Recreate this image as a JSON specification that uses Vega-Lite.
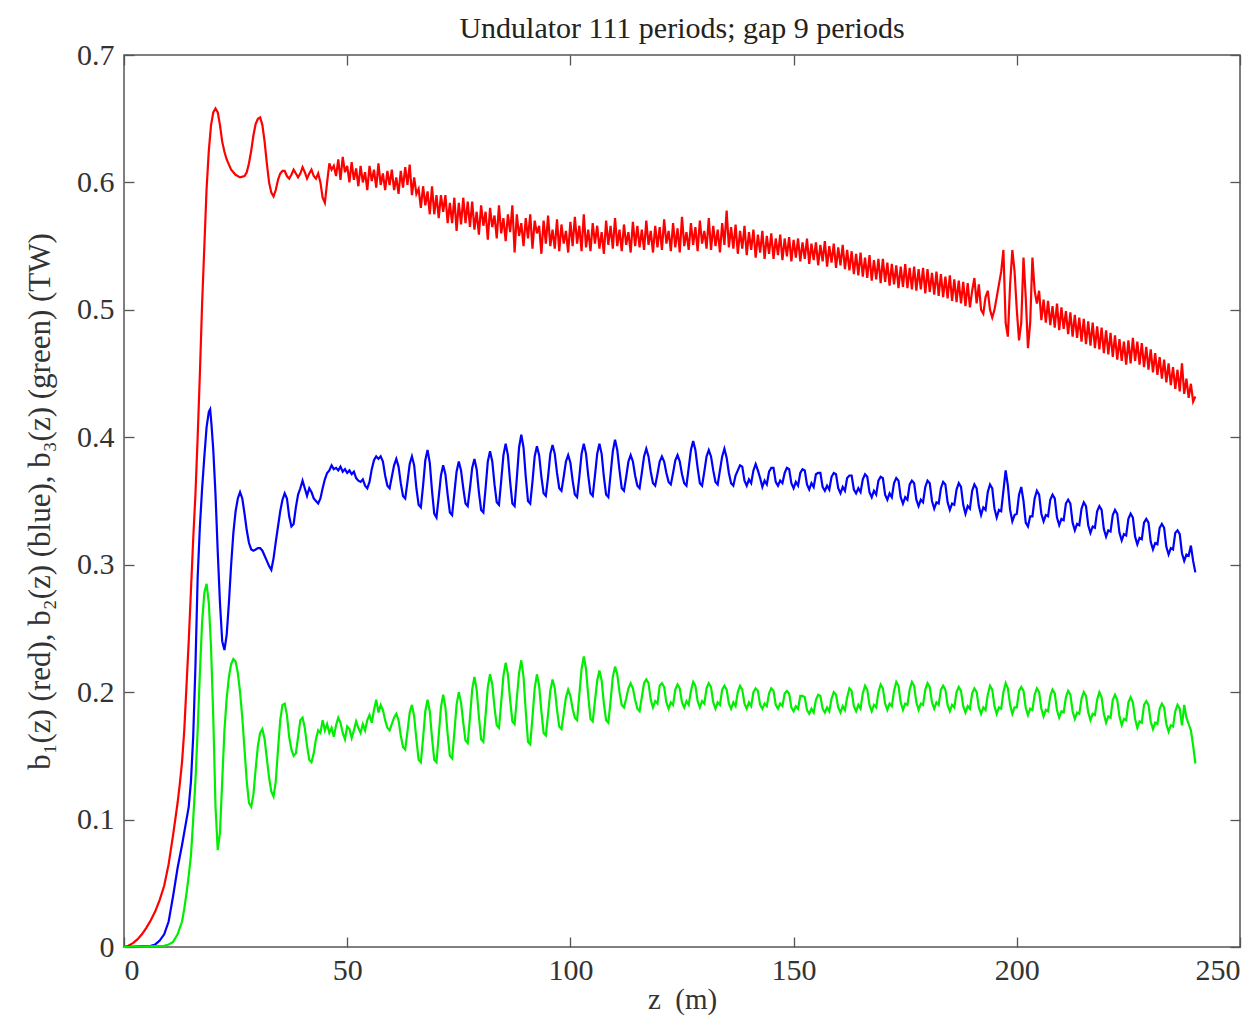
{
"$schema":"https://vega.github.io/schema/vega-lite/v6.json",
"width":1116,"height":892,
"autosize":{"type":"none"},
"padding":{"left":124,"top":55,"right":18,"bottom":82},
"background":"white",
"title":{"text":"Undulator 111 periods; gap 9 periods","font":"Liberation Serif","fontSize":30,"fontWeight":"normal","color":"#222","offset":-4},
"config":{
"view":{"stroke":"#555","strokeWidth":1.5},
"axis":{"labelFont":"Liberation Serif","labelFontSize":30,"labelColor":"#333","titleFont":"Liberation Serif","titleFontSize":29,"titleFontWeight":"normal","titleColor":"#333","grid":false,"domain":false,"tickColor":"#555","tickSize":-10,"tickWidth":1.3}
},
"datasets":{
"red":[{"z":0,"v":0},{"z":1,"v":0.001},{"z":2,"v":0.003},{"z":3,"v":0.006},{"z":4,"v":0.01},{"z":5,"v":0.015},{"z":6,"v":0.021},{"z":7,"v":0.028},{"z":8,"v":0.037},{"z":9,"v":0.048},{"z":10,"v":0.065},{"z":11,"v":0.088},{"z":12,"v":0.113},{"z":12.5,"v":0.128},{"z":13,"v":0.145},{"z":13.5,"v":0.17},{"z":14,"v":0.205},{"z":14.5,"v":0.24},{"z":15,"v":0.28},{"z":15.5,"v":0.32},{"z":16,"v":0.355},{"z":16.5,"v":0.4},{"z":17,"v":0.45},{"z":17.5,"v":0.505},{"z":18,"v":0.55},{"z":18.5,"v":0.595},{"z":19,"v":0.625},{"z":19.5,"v":0.645},{"z":20,"v":0.655},{"z":20.5,"v":0.658},{"z":21,"v":0.655},{"z":21.5,"v":0.645},{"z":22,"v":0.632},{"z":22.5,"v":0.624},{"z":23,"v":0.618},{"z":24,"v":0.61},{"z":25,"v":0.606},{"z":26,"v":0.604},{"z":27,"v":0.605},{"z":27.5,"v":0.608},{"z":28,"v":0.615},{"z":28.5,"v":0.625},{"z":29,"v":0.637},{"z":29.5,"v":0.646},{"z":30,"v":0.65},{"z":30.5,"v":0.651},{"z":31,"v":0.645},{"z":31.5,"v":0.632},{"z":32,"v":0.615},{"z":32.5,"v":0.6},{"z":33,"v":0.592},{"z":33.5,"v":0.589},{"z":34,"v":0.594},{"z":34.5,"v":0.602},{"z":35,"v":0.607},{"z":35.5,"v":0.609},{"z":36,"v":0.609},{"z":36.5,"v":0.605},{"z":37,"v":0.603},{"z":37.5,"v":0.606},{"z":38,"v":0.61},{"z":38.5,"v":0.607},{"z":39,"v":0.604},{"z":39.5,"v":0.607},{"z":40,"v":0.612},{"z":40.5,"v":0.608},{"z":41,"v":0.603},{"z":41.5,"v":0.607},{"z":42,"v":0.61},{"z":42.5,"v":0.605},{"z":43,"v":0.603},{"z":43.5,"v":0.607},{"z":44,"v":0.6},{"z":44.5,"v":0.588},{"z":45,"v":0.584},{"z":45.5,"v":0.6},{"z":46,"v":0.615},{"z":46.5,"v":0.61},{"z":47,"v":0.613},{"z":47.5,"v":0.605},{"z":48,"v":0.618},{"z":48.5,"v":0.602},{"z":49,"v":0.62},{"z":49.5,"v":0.608},
{"z":50,"v":0.613},{"z":50.5,"v":0.6},{"z":51,"v":0.616},{"z":51.5,"v":0.602},{"z":52,"v":0.611},{"z":52.5,"v":0.597},{"z":53,"v":0.613},{"z":53.5,"v":0.6},{"z":54,"v":0.608},{"z":54.5,"v":0.594},{"z":55,"v":0.613},{"z":55.5,"v":0.601},{"z":56,"v":0.61},{"z":56.5,"v":0.596},{"z":57,"v":0.615},{"z":57.5,"v":0.598},{"z":58,"v":0.607},{"z":58.5,"v":0.594},{"z":59,"v":0.609},{"z":59.5,"v":0.598},{"z":60,"v":0.61},{"z":60.5,"v":0.594},{"z":61,"v":0.604},{"z":61.5,"v":0.591},{"z":62,"v":0.609},{"z":62.5,"v":0.596},{"z":63,"v":0.612},{"z":63.5,"v":0.598},{"z":64,"v":0.614},{"z":64.5,"v":0.59},{"z":65,"v":0.604},{"z":65.5,"v":0.591},{"z":66,"v":0.595},{"z":66.5,"v":0.58},{"z":67,"v":0.597},{"z":67.5,"v":0.582},{"z":68,"v":0.593},{"z":68.5,"v":0.575},{"z":69,"v":0.597},{"z":69.5,"v":0.575},{"z":70,"v":0.59},{"z":70.5,"v":0.572},{"z":71,"v":0.59},{"z":71.5,"v":0.577},{"z":72,"v":0.59},{"z":72.5,"v":0.568},{"z":73,"v":0.584},{"z":73.5,"v":0.568},{"z":74,"v":0.588},{"z":74.5,"v":0.562},{"z":75,"v":0.584},{"z":75.5,"v":0.567},{"z":76,"v":0.588},{"z":76.5,"v":0.568},{"z":77,"v":0.585},{"z":77.5,"v":0.565},{"z":78,"v":0.585},{"z":78.5,"v":0.563},{"z":79,"v":0.577},{"z":79.5,"v":0.559},{"z":80,"v":0.582},{"z":80.5,"v":0.566},{"z":81,"v":0.577},{"z":81.5,"v":0.555},{"z":82,"v":0.58},{"z":82.5,"v":0.565},{"z":83,"v":0.574},{"z":83.5,"v":0.556},{"z":84,"v":0.582},{"z":84.5,"v":0.56},{"z":85,"v":0.572},{"z":85.5,"v":0.554},{"z":86,"v":0.575},{"z":86.5,"v":0.561},{"z":87,"v":0.582},{"z":87.5,"v":0.545},{"z":88,"v":0.575},{"z":88.5,"v":0.558},{"z":89,"v":0.568},{"z":89.5,"v":0.55},{"z":90,"v":0.572},{"z":90.5,"v":0.556},{"z":91,"v":0.575},{"z":91.5,"v":0.548},{"z":92,"v":0.57},{"z":92.5,"v":0.56},{"z":93,"v":0.566},{"z":93.5,"v":0.544},{"z":94,"v":0.57},{"z":94.5,"v":0.552},{"z":95,"v":0.574},{"z":95.5,"v":0.55},{"z":96,"v":0.563},{"z":96.5,"v":0.548},{"z":97,"v":0.571},{"z":97.5,"v":0.546},{"z":98,"v":0.567},{"z":98.5,"v":0.552},{"z":99,"v":0.562},{"z":99.5,"v":0.545},{"z":100,"v":0.569},{"z":100.5,"v":0.55},{"z":101,"v":0.573},{"z":101.5,"v":0.552},{"z":102,"v":0.566},{"z":102.5,"v":0.546},{"z":103,"v":0.575},{"z":103.5,"v":0.549},{"z":104,"v":0.563},{"z":104.5,"v":0.546},{"z":105,"v":0.568},{"z":105.5,"v":0.552},{"z":106,"v":0.566},{"z":106.5,"v":0.548},{"z":107,"v":0.561},{"z":107.5,"v":0.544},{"z":108,"v":0.57},{"z":108.5,"v":0.551},{"z":109,"v":0.566},{"z":109.5,"v":0.548},{"z":110,"v":0.572},{"z":110.5,"v":0.55},{"z":111,"v":0.563},{"z":111.5,"v":0.546},{"z":112,"v":0.567},{"z":112.5,"v":0.551},{"z":113,"v":0.561},{"z":113.5,"v":0.545},{"z":114,"v":0.569},{"z":114.5,"v":0.55},{"z":115,"v":0.566},{"z":115.5,"v":0.549},{"z":116,"v":0.563},{"z":116.5,"v":0.547},{"z":117,"v":0.57},{"z":117.5,"v":0.551},{"z":118,"v":0.562},{"z":118.5,"v":0.545},{"z":119,"v":0.566},{"z":119.5,"v":0.549},{"z":120,"v":0.565},{"z":120.5,"v":0.547},{"z":121,"v":0.571},{"z":121.5,"v":0.552},{"z":122,"v":0.562},{"z":122.5,"v":0.546},{"z":123,"v":0.568},{"z":123.5,"v":0.549},{"z":124,"v":0.564},{"z":124.5,"v":0.545},{"z":125,"v":0.573},{"z":125.5,"v":0.55},{"z":126,"v":0.561},{"z":126.5,"v":0.547},{"z":127,"v":0.568},{"z":127.5,"v":0.551},{"z":128,"v":0.565},{"z":128.5,"v":0.546},{"z":129,"v":0.57},{"z":129.5,"v":0.552},{"z":130,"v":0.562},{"z":130.5,"v":0.548},{"z":131,"v":0.572},{"z":131.5,"v":0.547},{"z":132,"v":0.566},{"z":132.5,"v":0.55},{"z":133,"v":0.563},{"z":133.5,"v":0.545},{"z":134,"v":0.568},{"z":134.5,"v":0.551},{"z":135,"v":0.578},{"z":135.5,"v":0.549},{"z":136,"v":0.565},{"z":136.5,"v":0.548},{"z":137,"v":0.567},{"z":137.5,"v":0.544},{"z":138,"v":0.562},{"z":138.5,"v":0.548},{"z":139,"v":0.566},{"z":139.5,"v":0.543},{"z":140,"v":0.561},{"z":140.5,"v":0.547},{"z":141,"v":0.563},{"z":141.5,"v":0.541},{"z":142,"v":0.559},{"z":142.5,"v":0.545},{"z":143,"v":0.562},{"z":143.5,"v":0.54},{"z":144,"v":0.558},{"z":144.5,"v":0.544},{"z":145,"v":0.56},{"z":145.5,"v":0.54},{"z":146,"v":0.556},{"z":146.5,"v":0.543},{"z":147,"v":0.559},{"z":147.5,"v":0.539},{"z":148,"v":0.556},{"z":148.5,"v":0.542},{"z":149,"v":0.557},{"z":149.5,"v":0.538},{"z":150,"v":0.555},{"z":150.5,"v":0.541},{"z":151,"v":0.556},{"z":151.5,"v":0.538},{"z":152,"v":0.553},{"z":152.5,"v":0.54},{"z":153,"v":0.556},{"z":153.5,"v":0.536},{"z":154,"v":0.552},{"z":154.5,"v":0.539},{"z":155,"v":0.553},{"z":155.5,"v":0.535},{"z":156,"v":0.551},{"z":156.5,"v":0.538},{"z":157,"v":0.554},{"z":157.5,"v":0.534},{"z":158,"v":0.55},{"z":158.5,"v":0.537},{"z":159,"v":0.552},{"z":159.5,"v":0.533},{"z":160,"v":0.549},{"z":160.5,"v":0.535},{"z":161,"v":0.551},{"z":161.5,"v":0.532},{"z":162,"v":0.547},{"z":162.5,"v":0.531},{"z":163,"v":0.546},{"z":163.5,"v":0.528},{"z":164,"v":0.544},{"z":164.5,"v":0.527},{"z":165,"v":0.545},{"z":165.5,"v":0.526},{"z":166,"v":0.541},{"z":166.5,"v":0.525},{"z":167,"v":0.543},{"z":167.5,"v":0.523},{"z":168,"v":0.539},{"z":168.5,"v":0.524},{"z":169,"v":0.54},{"z":169.5,"v":0.521},{"z":170,"v":0.54},{"z":170.5,"v":0.522},{"z":171,"v":0.537},{"z":171.5,"v":0.519},{"z":172,"v":0.536},{"z":172.5,"v":0.52},{"z":173,"v":0.535},{"z":173.5,"v":0.517},{"z":174,"v":0.534},{"z":174.5,"v":0.518},{"z":175,"v":0.536},{"z":175.5,"v":0.517},{"z":176,"v":0.533},{"z":176.5,"v":0.516},{"z":177,"v":0.534},{"z":177.5,"v":0.515},{"z":178,"v":0.532},{"z":178.5,"v":0.516},{"z":179,"v":0.533},{"z":179.5,"v":0.513},{"z":180,"v":0.532},{"z":180.5,"v":0.514},{"z":181,"v":0.529},{"z":181.5,"v":0.512},{"z":182,"v":0.53},{"z":182.5,"v":0.511},{"z":183,"v":0.528},{"z":183.5,"v":0.51},{"z":184,"v":0.526},{"z":184.5,"v":0.509},{"z":185,"v":0.527},{"z":185.5,"v":0.507},{"z":186,"v":0.524},{"z":186.5,"v":0.506},{"z":187,"v":0.523},{"z":187.5,"v":0.505},{"z":188,"v":0.522},{"z":188.5,"v":0.503},{"z":189,"v":0.521},{"z":189.5,"v":0.502},{"z":190,"v":0.515},{"z":190.5,"v":0.525},{"z":191,"v":0.505},{"z":191.5,"v":0.52},{"z":192,"v":0.5},{"z":192.5,"v":0.497},{"z":193,"v":0.51},{"z":193.5,"v":0.515},{"z":194,"v":0.5},{"z":194.5,"v":0.494},{"z":195,"v":0.5},{"z":195.5,"v":0.51},{"z":196,"v":0.52},{"z":196.5,"v":0.53},{"z":197,"v":0.547},{"z":197.5,"v":0.49},{"z":198,"v":0.479},{"z":198.5,"v":0.52},{"z":199,"v":0.547},{"z":199.5,"v":0.53},{"z":200,"v":0.5},{"z":200.5,"v":0.476},{"z":201,"v":0.49},{"z":201.5,"v":0.541},{"z":202,"v":0.51},{"z":202.5,"v":0.47},{"z":203,"v":0.49},{"z":203.5,"v":0.541},{"z":204,"v":0.515},{"z":204.5,"v":0.505},{"z":205,"v":0.515},{"z":205.5,"v":0.492},{"z":206,"v":0.508},{"z":206.5,"v":0.49},{"z":207,"v":0.507},{"z":207.5,"v":0.488},{"z":208,"v":0.503},{"z":208.5,"v":0.486},{"z":209,"v":0.505},{"z":209.5,"v":0.484},{"z":210,"v":0.502},{"z":210.5,"v":0.485},{"z":211,"v":0.499},{"z":211.5,"v":0.481},{"z":212,"v":0.498},{"z":212.5,"v":0.479},{"z":213,"v":0.496},{"z":213.5,"v":0.478},{"z":214,"v":0.494},{"z":214.5,"v":0.475},{"z":215,"v":0.493},{"z":215.5,"v":0.473},{"z":216,"v":0.491},{"z":216.5,"v":0.472},{"z":217,"v":0.49},{"z":217.5,"v":0.47},{"z":218,"v":0.487},{"z":218.5,"v":0.469},{"z":219,"v":0.486},{"z":219.5,"v":0.466},{"z":220,"v":0.484},{"z":220.5,"v":0.465},{"z":221,"v":0.482},{"z":221.5,"v":0.463},{"z":222,"v":0.48},{"z":222.5,"v":0.461},{"z":223,"v":0.477},{"z":223.5,"v":0.46},{"z":224,"v":0.475},{"z":224.5,"v":0.457},{"z":225,"v":0.476},{"z":225.5,"v":0.458},{"z":226,"v":0.478},{"z":226.5,"v":0.46},{"z":227,"v":0.475},{"z":227.5,"v":0.457},{"z":228,"v":0.474},{"z":228.5,"v":0.455},{"z":229,"v":0.471},{"z":229.5,"v":0.453},{"z":230,"v":0.469},{"z":230.5,"v":0.451},{"z":231,"v":0.466},{"z":231.5,"v":0.449},{"z":232,"v":0.463},{"z":232.5,"v":0.446},{"z":233,"v":0.461},{"z":233.5,"v":0.443},{"z":234,"v":0.458},{"z":234.5,"v":0.441},{"z":235,"v":0.455},{"z":235.5,"v":0.438},{"z":236,"v":0.453},{"z":236.5,"v":0.436},{"z":237,"v":0.458},{"z":237.5,"v":0.434},{"z":238,"v":0.446},{"z":238.5,"v":0.431},{"z":239,"v":0.442},{"z":239.5,"v":0.428},{"z":240,"v":0.432}],
"blue":[{"z":0,"v":0},{"z":6,"v":0.001},{"z":7,"v":0.002},{"z":8,"v":0.005},{"z":9,"v":0.01},{"z":10,"v":0.02},{"z":11,"v":0.04},{"z":12,"v":0.062},{"z":13,"v":0.08},{"z":14,"v":0.1},{"z":14.5,"v":0.11},{"z":15,"v":0.13},{"z":15.5,"v":0.165},{"z":16,"v":0.22},{"z":16.5,"v":0.29},{"z":17,"v":0.33},{"z":17.5,"v":0.36},{"z":18,"v":0.385},{"z":18.5,"v":0.408},{"z":19,"v":0.42},{"z":19.3,"v":0.422},{"z":19.6,"v":0.41},{"z":20,"v":0.39},{"z":20.5,"v":0.355},{"z":21,"v":0.31},{"z":21.5,"v":0.27},{"z":22,"v":0.24},{"z":22.5,"v":0.233},{"z":23,"v":0.245},{"z":23.5,"v":0.27},{"z":24,"v":0.3},{"z":24.5,"v":0.325},{"z":25,"v":0.342},{"z":25.5,"v":0.352},{"z":26,"v":0.357},{"z":26.5,"v":0.352},{"z":27,"v":0.34},{"z":27.5,"v":0.327},{"z":28,"v":0.317},{"z":28.5,"v":0.312},{"z":29,"v":0.311},{"z":29.5,"v":0.312},{"z":30,"v":0.313},{"z":30.5,"v":0.313},{"z":31,"v":0.311},{"z":31.5,"v":0.307},{"z":32,"v":0.303},{"z":32.5,"v":0.299},{"z":33,"v":0.296},{"z":33.5,"v":0.305},{"z":34,"v":0.318},{"z":34.5,"v":0.33},{"z":35,"v":0.342},{"z":35.5,"v":0.351},{"z":36,"v":0.356},{"z":36.5,"v":0.352},{"z":37,"v":0.338},{"z":37.5,"v":0.33},{"z":38,"v":0.332},{"z":38.5,"v":0.345},{"z":39,"v":0.355},{"z":39.5,"v":0.36},{"z":40,"v":0.366},{"z":40.5,"v":0.36},{"z":41,"v":0.354},{"z":41.5,"v":0.36},{"z":42,"v":0.357},{"z":42.5,"v":0.352},{"z":43,"v":0.35},{"z":43.5,"v":0.348},{"z":44,"v":0.352},{"z":44.5,"v":0.36},{"z":45,"v":0.367},{"z":45.5,"v":0.372},{"z":46,"v":0.374},{"z":46.5,"v":0.378},{"z":47,"v":0.375},{"z":47.5,"v":0.376},{"z":48,"v":0.374},{"z":48.5,"v":0.377},{"z":49,"v":0.373},{"z":49.5,"v":0.375},{"z":50,"v":0.372},{"z":50.5,"v":0.374},{"z":51,"v":0.371},{"z":51.5,"v":0.373},{"z":52,"v":0.368},{"z":52.5,"v":0.366},{"z":53,"v":0.365},{"z":53.5,"v":0.367},{"z":54,"v":0.362},{"z":54.5,"v":0.36},{"z":55,"v":0.365},{"z":55.5,"v":0.375},{"z":56,"v":0.382},{"z":56.5,"v":0.385},{"z":57,"v":0.383},
{"z":57.5,"v":0.385},{"z":58,"v":0.381},{"z":58.5,"v":0.37},{"z":59,"v":0.362},{"z":59.5,"v":0.36},{"z":60,"v":0.369},{"z":60.5,"v":0.378},{"z":61,"v":0.383},{"z":61.5,"v":0.377},{"z":62,"v":0.364},{"z":62.5,"v":0.354},{"z":63,"v":0.352},{"z":63.5,"v":0.365},{"z":64,"v":0.379},{"z":64.5,"v":0.385},{"z":65,"v":0.378},{"z":65.5,"v":0.36},{"z":66,"v":0.347},{"z":66.5,"v":0.345},{"z":67,"v":0.362},{"z":67.5,"v":0.382},{"z":68,"v":0.39},{"z":68.5,"v":0.38},{"z":69,"v":0.358},{"z":69.5,"v":0.34},{"z":70,"v":0.337},{"z":70.5,"v":0.353},{"z":71,"v":0.37},{"z":71.5,"v":0.378},{"z":72,"v":0.371},{"z":72.5,"v":0.355},{"z":73,"v":0.341},{"z":73.5,"v":0.339},{"z":74,"v":0.356},{"z":74.5,"v":0.373},{"z":75,"v":0.381},{"z":75.5,"v":0.374},{"z":76,"v":0.36},{"z":76.5,"v":0.348},{"z":77,"v":0.346},{"z":77.5,"v":0.36},{"z":78,"v":0.376},{"z":78.5,"v":0.383},{"z":79,"v":0.375},{"z":79.5,"v":0.357},{"z":80,"v":0.343},{"z":80.5,"v":0.341},{"z":81,"v":0.36},{"z":81.5,"v":0.381},{"z":82,"v":0.389},{"z":82.5,"v":0.381},{"z":83,"v":0.363},{"z":83.5,"v":0.349},{"z":84,"v":0.347},{"z":84.5,"v":0.366},{"z":85,"v":0.386},{"z":85.5,"v":0.395},{"z":86,"v":0.386},{"z":86.5,"v":0.365},{"z":87,"v":0.348},{"z":87.5,"v":0.346},{"z":88,"v":0.368},{"z":88.5,"v":0.392},{"z":89,"v":0.402},{"z":89.5,"v":0.392},{"z":90,"v":0.369},{"z":90.5,"v":0.35},{"z":91,"v":0.348},{"z":91.5,"v":0.365},{"z":92,"v":0.385},{"z":92.5,"v":0.393},{"z":93,"v":0.386},{"z":93.5,"v":0.369},{"z":94,"v":0.356},{"z":94.5,"v":0.354},{"z":95,"v":0.369},{"z":95.5,"v":0.387},{"z":96,"v":0.394},{"z":96.5,"v":0.387},{"z":97,"v":0.372},{"z":97.5,"v":0.36},{"z":98,"v":0.358},{"z":98.5,"v":0.369},{"z":99,"v":0.381},{"z":99.5,"v":0.386},{"z":100,"v":0.38},{"z":100.5,"v":0.366},{"z":101,"v":0.355},{"z":101.5,"v":0.353},{"z":102,"v":0.369},{"z":102.5,"v":0.387},{"z":103,"v":0.395},{"z":103.5,"v":0.387},{"z":104,"v":0.37},{"z":104.5,"v":0.356},{"z":105,"v":0.354},{"z":105.5,"v":0.37},{"z":106,"v":0.387},{"z":106.5,"v":0.395},{"z":107,"v":0.387},{"z":107.5,"v":0.369},{"z":108,"v":0.355},{"z":108.5,"v":0.353},{"z":109,"v":0.371},{"z":109.5,"v":0.389},{"z":110,"v":0.398},{"z":110.5,"v":0.39},{"z":111,"v":0.374},{"z":111.5,"v":0.36},{"z":112,"v":0.358},{"z":112.5,"v":0.369},{"z":113,"v":0.381},{"z":113.5,"v":0.386},{"z":114,"v":0.381},{"z":114.5,"v":0.37},{"z":115,"v":0.362},{"z":115.5,"v":0.36},{"z":116,"v":0.372},{"z":116.5,"v":0.385},{"z":117,"v":0.391},{"z":117.5,"v":0.385},{"z":118,"v":0.373},{"z":118.5,"v":0.364},{"z":119,"v":0.362},{"z":119.5,"v":0.371},{"z":120,"v":0.381},{"z":120.5,"v":0.385},{"z":121,"v":0.381},{"z":121.5,"v":0.372},{"z":122,"v":0.365},{"z":122.5,"v":0.363},{"z":123,"v":0.372},{"z":123.5,"v":0.382},{"z":124,"v":0.386},{"z":124.5,"v":0.381},{"z":125,"v":0.371},{"z":125.5,"v":0.364},{"z":126,"v":0.362},{"z":126.5,"v":0.376},{"z":127,"v":0.39},{"z":127.5,"v":0.397},{"z":128,"v":0.39},{"z":128.5,"v":0.376},{"z":129,"v":0.364},{"z":129.5,"v":0.362},{"z":130,"v":0.373},{"z":130.5,"v":0.385},{"z":131,"v":0.39},{"z":131.5,"v":0.385},{"z":132,"v":0.374},{"z":132.5,"v":0.365},{"z":133,"v":0.363},{"z":133.5,"v":0.374},{"z":134,"v":0.385},{"z":134.5,"v":0.391},{"z":135,"v":0.384},{"z":135.5,"v":0.372},{"z":136,"v":0.364},{"z":136.5,"v":0.362},{"z":137,"v":0.37},{"z":137.5,"v":0.374},
{"z":138,"v":0.378},{"z":138.5,"v":0.377},{"z":139,"v":0.366},{"z":139.5,"v":0.362},{"z":140,"v":0.367},{"z":140.5,"v":0.364},{"z":141,"v":0.374},{"z":141.5,"v":0.379},{"z":142,"v":0.374},{"z":142.5,"v":0.368},{"z":143,"v":0.361},{"z":143.5,"v":0.366},{"z":144,"v":0.363},{"z":144.5,"v":0.373},{"z":145,"v":0.376},{"z":145.5,"v":0.376},{"z":146,"v":0.365},{"z":146.5,"v":0.362},{"z":147,"v":0.366},{"z":147.5,"v":0.364},{"z":148,"v":0.372},{"z":148.5,"v":0.376},{"z":149,"v":0.375},{"z":149.5,"v":0.364},{"z":150,"v":0.36},{"z":150.5,"v":0.365},{"z":151,"v":0.362},{"z":151.5,"v":0.372},{"z":152,"v":0.375},{"z":152.5,"v":0.374},{"z":153,"v":0.363},{"z":153.5,"v":0.359},{"z":154,"v":0.364},{"z":154.5,"v":0.361},{"z":155,"v":0.371},{"z":155.5,"v":0.372},{"z":156,"v":0.372},{"z":156.5,"v":0.361},{"z":157,"v":0.358},{"z":157.5,"v":0.362},{"z":158,"v":0.359},{"z":158.5,"v":0.369},{"z":159,"v":0.372},{"z":159.5,"v":0.371},{"z":160,"v":0.36},{"z":160.5,"v":0.356},{"z":161,"v":0.361},{"z":161.5,"v":0.358},{"z":162,"v":0.368},{"z":162.5,"v":0.37},{"z":163,"v":0.37},{"z":163.5,"v":0.359},{"z":164,"v":0.356},{"z":164.5,"v":0.36},{"z":165,"v":0.357},{"z":165.5,"v":0.367},{"z":166,"v":0.371},{"z":166.5,"v":0.369},{"z":167,"v":0.357},{"z":167.5,"v":0.353},{"z":168,"v":0.358},{"z":168.5,"v":0.355},{"z":169,"v":0.366},{"z":169.5,"v":0.369},{"z":170,"v":0.368},{"z":170.5,"v":0.355},{"z":171,"v":0.351},{"z":171.5,"v":0.356},{"z":172,"v":0.353},{"z":172.5,"v":0.364},{"z":173,"v":0.368},{"z":173.5,"v":0.366},{"z":174,"v":0.353},{"z":174.5,"v":0.348},{"z":175,"v":0.353},{"z":175.5,"v":0.351},{"z":176,"v":0.363},{"z":176.5,"v":0.366},{"z":177,"v":0.364},{"z":177.5,"v":0.351},{"z":178,"v":0.346},{"z":178.5,"v":0.351},{"z":179,"v":0.349},{"z":179.5,"v":0.361},{"z":180,"v":0.366},{"z":180.5,"v":0.364},{"z":181,"v":0.35},{"z":181.5,"v":0.344},{"z":182,"v":0.349},{"z":182.5,"v":0.348},{"z":183,"v":0.36},{"z":183.5,"v":0.365},{"z":184,"v":0.363},{"z":184.5,"v":0.349},{"z":185,"v":0.343},{"z":185.5,"v":0.348},{"z":186,"v":0.347},{"z":186.5,"v":0.359},{"z":187,"v":0.364},{"z":187.5,"v":0.361},{"z":188,"v":0.347},{"z":188.5,"v":0.34},{"z":189,"v":0.346},{"z":189.5,"v":0.344},{"z":190,"v":0.358},{"z":190.5,"v":0.363},{"z":191,"v":0.36},{"z":191.5,"v":0.346},{"z":192,"v":0.339},{"z":192.5,"v":0.345},{"z":193,"v":0.343},{"z":193.5,"v":0.357},{"z":194,"v":0.363},{"z":194.5,"v":0.36},{"z":195,"v":0.344},{"z":195.5,"v":0.337},{"z":196,"v":0.343},{"z":196.5,"v":0.342},{"z":197,"v":0.358},{"z":197.5,"v":0.374},{"z":198,"v":0.362},{"z":198.5,"v":0.343},{"z":199,"v":0.334},{"z":199.5,"v":0.339},{"z":200,"v":0.34},{"z":200.5,"v":0.355},{"z":201,"v":0.361},{"z":201.5,"v":0.35},{"z":202,"v":0.333},{"z":202.5,"v":0.33},{"z":203,"v":0.338},{"z":203.5,"v":0.338},{"z":204,"v":0.352},{"z":204.5,"v":0.358},{"z":205,"v":0.355},{"z":205.5,"v":0.34},{"z":206,"v":0.334},{"z":206.5,"v":0.339},{"z":207,"v":0.338},{"z":207.5,"v":0.351},{"z":208,"v":0.355},{"z":208.5,"v":0.352},{"z":209,"v":0.337},{"z":209.5,"v":0.331},{"z":210,"v":0.336},{"z":210.5,"v":0.335},{"z":211,"v":0.348},{"z":211.5,"v":0.351},{"z":212,"v":0.348},{"z":212.5,"v":0.333},{"z":213,"v":0.327},{"z":213.5,"v":0.332},{"z":214,"v":0.331},{"z":214.5,"v":0.344},{"z":215,"v":0.349},{"z":215.5,"v":0.346},{"z":216,"v":0.331},{"z":216.5,"v":0.325},{"z":217,"v":0.33},{"z":217.5,"v":0.329},{"z":218,"v":0.342},{"z":218.5,"v":0.346},{"z":219,"v":0.343},{"z":219.5,"v":0.328},{"z":220,"v":0.322},{"z":220.5,"v":0.327},{"z":221,"v":0.326},{"z":221.5,"v":0.339},{"z":222,"v":0.343},{"z":222.5,"v":0.34},{"z":223,"v":0.325},{"z":223.5,"v":0.319},{"z":224,"v":0.324},{"z":224.5,"v":0.323},{"z":225,"v":0.336},{"z":225.5,"v":0.34},{"z":226,"v":0.337},{"z":226.5,"v":0.322},{"z":227,"v":0.316},{"z":227.5,"v":0.321},{"z":228,"v":0.32},{"z":228.5,"v":0.333},{"z":229,"v":0.336},{"z":229.5,"v":0.333},{"z":230,"v":0.318},{"z":230.5,"v":0.312},{"z":231,"v":0.317},{"z":231.5,"v":0.316},{"z":232,"v":0.329},{"z":232.5,"v":0.332},{"z":233,"v":0.329},{"z":233.5,"v":0.314},{"z":234,"v":0.308},{"z":234.5,"v":0.313},{"z":235,"v":0.312},{"z":235.5,"v":0.325},{"z":236,"v":0.327},{"z":236.5,"v":0.324},{"z":237,"v":0.309},{"z":237.5,"v":0.303},{"z":238,"v":0.308},{"z":238.5,"v":0.307},{"z":239,"v":0.315},{"z":239.5,"v":0.303},{"z":240,"v":0.294}],
"green":[{"z":0,"v":0},{"z":9,"v":0.001},{"z":10,"v":0.002},{"z":11,"v":0.004},{"z":12,"v":0.01},{"z":13,"v":0.02},{"z":13.5,"v":0.03},{"z":14,"v":0.042},{"z":14.5,"v":0.056},{"z":15,"v":0.072},{"z":15.5,"v":0.1},{"z":16,"v":0.13},{"z":16.5,"v":0.17},{"z":17,"v":0.215},{"z":17.5,"v":0.255},{"z":18,"v":0.278},{"z":18.5,"v":0.285},{"z":19,"v":0.27},{"z":19.5,"v":0.235},{"z":20,"v":0.18},{"z":20.5,"v":0.11},{"z":21,"v":0.076},{"z":21.5,"v":0.09},{"z":22,"v":0.13},{"z":22.5,"v":0.17},{"z":23,"v":0.195},{"z":23.5,"v":0.212},{"z":24,"v":0.222},{"z":24.5,"v":0.226},{"z":25,"v":0.224},{"z":25.5,"v":0.215},{"z":26,"v":0.2},{"z":26.5,"v":0.18},{"z":27,"v":0.155},{"z":27.5,"v":0.13},{"z":28,"v":0.113},{"z":28.5,"v":0.11},{"z":29,"v":0.12},{"z":29.5,"v":0.14},{"z":30,"v":0.158},{"z":30.5,"v":0.168},{"z":31,"v":0.171},{"z":31.5,"v":0.163},{"z":32,"v":0.148},{"z":32.5,"v":0.133},{"z":33,"v":0.122},{"z":33.5,"v":0.118},{"z":34,"v":0.13},{"z":34.5,"v":0.155},{"z":35,"v":0.178},{"z":35.5,"v":0.19},{"z":36,"v":0.191},{"z":36.5,"v":0.182},{"z":37,"v":0.165},{"z":37.5,"v":0.155},{"z":38,"v":0.15},{"z":38.5,"v":0.152},{"z":39,"v":0.165},{"z":39.5,"v":0.178},{"z":40,"v":0.18},{"z":40.5,"v":0.172},{"z":41,"v":0.158},{"z":41.5,"v":0.147},{"z":42,"v":0.145},{"z":42.5,"v":0.152},{"z":43,"v":0.163},{"z":43.5,"v":0.17},{"z":44,"v":0.168},{"z":44.5,"v":0.178},{"z":45,"v":0.17},{"z":45.5,"v":0.175},{"z":46,"v":0.168},{"z":46.5,"v":0.172},{"z":47,"v":0.165},{"z":47.5,"v":0.174},{"z":48,"v":0.18},{"z":48.5,"v":0.176},{"z":49,"v":0.168},{"z":49.5,"v":0.163},{"z":50,"v":0.173},{"z":50.5,"v":0.171},{"z":51,"v":0.164},{"z":51.5,"v":0.17},{"z":52,"v":0.177},{"z":52.5,"v":0.172},{"z":53,"v":0.168},{"z":53.5,"v":0.175},{"z":54,"v":0.17},{"z":54.5,"v":0.178},{"z":55,"v":0.182},{"z":55.5,"v":0.176},{"z":56,"v":0.186},{"z":56.5,"v":0.194},{"z":57,"v":0.184},
{"z":57.5,"v":0.19},{"z":58,"v":0.186},{"z":58.5,"v":0.178},{"z":59,"v":0.172},{"z":59.5,"v":0.17},{"z":60,"v":0.175},{"z":60.5,"v":0.18},{"z":61,"v":0.183},{"z":61.5,"v":0.178},{"z":62,"v":0.166},{"z":62.5,"v":0.157},{"z":63,"v":0.155},{"z":63.5,"v":0.169},{"z":64,"v":0.184},{"z":64.5,"v":0.19},{"z":65,"v":0.181},{"z":65.5,"v":0.163},{"z":66,"v":0.147},{"z":66.5,"v":0.145},{"z":67,"v":0.164},{"z":67.5,"v":0.185},{"z":68,"v":0.194},{"z":68.5,"v":0.185},{"z":69,"v":0.164},{"z":69.5,"v":0.147},{"z":70,"v":0.145},{"z":70.5,"v":0.166},{"z":71,"v":0.188},{"z":71.5,"v":0.198},{"z":72,"v":0.188},{"z":72.5,"v":0.167},{"z":73,"v":0.15},{"z":73.5,"v":0.148},{"z":74,"v":0.168},{"z":74.5,"v":0.19},{"z":75,"v":0.2},{"z":75.5,"v":0.192},{"z":76,"v":0.176},{"z":76.5,"v":0.162},{"z":77,"v":0.16},{"z":77.5,"v":0.18},{"z":78,"v":0.202},{"z":78.5,"v":0.212},{"z":79,"v":0.202},{"z":79.5,"v":0.181},{"z":80,"v":0.163},{"z":80.5,"v":0.161},{"z":81,"v":0.182},{"z":81.5,"v":0.204},{"z":82,"v":0.214},{"z":82.5,"v":0.206},{"z":83,"v":0.188},{"z":83.5,"v":0.174},{"z":84,"v":0.172},{"z":84.5,"v":0.192},{"z":85,"v":0.213},{"z":85.5,"v":0.223},{"z":86,"v":0.214},{"z":86.5,"v":0.194},{"z":87,"v":0.177},{"z":87.5,"v":0.175},{"z":88,"v":0.195},{"z":88.5,"v":0.215},{"z":89,"v":0.225},{"z":89.5,"v":0.212},{"z":90,"v":0.185},{"z":90.5,"v":0.161},{"z":91,"v":0.159},{"z":91.5,"v":0.18},{"z":92,"v":0.203},{"z":92.5,"v":0.214},{"z":93,"v":0.205},{"z":93.5,"v":0.185},{"z":94,"v":0.168},{"z":94.5,"v":0.166},{"z":95,"v":0.183},{"z":95.5,"v":0.201},{"z":96,"v":0.21},{"z":96.5,"v":0.203},{"z":97,"v":0.186},{"z":97.5,"v":0.173},{"z":98,"v":0.171},{"z":98.5,"v":0.183},{"z":99,"v":0.196},{"z":99.5,"v":0.202},{"z":100,"v":0.197},{"z":100.5,"v":0.187},{"z":101,"v":0.18},{"z":101.5,"v":0.178},{"z":102,"v":0.198},{"z":102.5,"v":0.218},{"z":103,"v":0.228},{"z":103.5,"v":0.218},{"z":104,"v":0.197},{"z":104.5,"v":0.179},{"z":105,"v":0.177},{"z":105.5,"v":0.193},{"z":106,"v":0.209},{"z":106.5,"v":0.217},{"z":107,"v":0.209},{"z":107.5,"v":0.191},{"z":108,"v":0.178},{"z":108.5,"v":0.176},{"z":109,"v":0.193},{"z":109.5,"v":0.212},{"z":110,"v":0.22},{"z":110.5,"v":0.214},{"z":111,"v":0.2},{"z":111.5,"v":0.19},{"z":112,"v":0.188},{"z":112.5,"v":0.195},{"z":113,"v":0.203},{"z":113.5,"v":0.207},{"z":114,"v":0.203},{"z":114.5,"v":0.194},{"z":115,"v":0.187},{"z":115.5,"v":0.185},{"z":116,"v":0.196},{"z":116.5,"v":0.207},
{"z":117,"v":0.21},{"z":117.5,"v":0.207},{"z":118,"v":0.194},{"z":118.5,"v":0.188},{"z":119,"v":0.193},{"z":119.5,"v":0.191},{"z":120,"v":0.205},{"z":120.5,"v":0.207},{"z":121,"v":0.204},{"z":121.5,"v":0.192},{"z":122,"v":0.187},{"z":122.5,"v":0.192},{"z":123,"v":0.19},{"z":123.5,"v":0.202},{"z":124,"v":0.206},{"z":124.5,"v":0.203},{"z":125,"v":0.192},{"z":125.5,"v":0.188},{"z":126,"v":0.193},{"z":126.5,"v":0.19},{"z":127,"v":0.201},{"z":127.5,"v":0.208},{"z":128,"v":0.205},{"z":128.5,"v":0.193},{"z":129,"v":0.188},{"z":129.5,"v":0.193},{"z":130,"v":0.191},{"z":130.5,"v":0.203},{"z":131,"v":0.207},{"z":131.5,"v":0.204},{"z":132,"v":0.192},{"z":132.5,"v":0.187},{"z":133,"v":0.192},{"z":133.5,"v":0.19},{"z":134,"v":0.202},{"z":134.5,"v":0.205},{"z":135,"v":0.202},{"z":135.5,"v":0.191},{"z":136,"v":0.187},{"z":136.5,"v":0.192},{"z":137,"v":0.189},{"z":137.5,"v":0.2},{"z":138,"v":0.205},{"z":138.5,"v":0.202},{"z":139,"v":0.191},{"z":139.5,"v":0.187},{"z":140,"v":0.192},{"z":140.5,"v":0.189},{"z":141,"v":0.2},{"z":141.5,"v":0.203},{"z":142,"v":0.201},{"z":142.5,"v":0.19},{"z":143,"v":0.187},{"z":143.5,"v":0.191},{"z":144,"v":0.189},{"z":144.5,"v":0.199},{"z":145,"v":0.203},{"z":145.5,"v":0.201},{"z":146,"v":0.19},{"z":146.5,"v":0.187},{"z":147,"v":0.191},{"z":147.5,"v":0.189},{"z":148,"v":0.199},{"z":148.5,"v":0.201},{"z":149,"v":0.199},{"z":149.5,"v":0.188},{"z":150,"v":0.185},{"z":150.5,"v":0.189},{"z":151,"v":0.187},{"z":151.5,"v":0.197},{"z":152,"v":0.197},{"z":152.5,"v":0.196},{"z":153,"v":0.186},{"z":153.5,"v":0.183},{"z":154,"v":0.187},{"z":154.5,"v":0.184},{"z":155,"v":0.194},{"z":155.5,"v":0.198},{"z":156,"v":0.197},{"z":156.5,"v":0.187},{"z":157,"v":0.184},{"z":157.5,"v":0.188},{"z":158,"v":0.185},{"z":158.5,"v":0.195},{"z":159,"v":0.2},{"z":159.5,"v":0.198},{"z":160,"v":0.188},{"z":160.5,"v":0.184},{"z":161,"v":0.189},{"z":161.5,"v":0.186},{"z":162,"v":0.196},{"z":162.5,"v":0.203},{"z":163,"v":0.201},{"z":163.5,"v":0.189},{"z":164,"v":0.185},{"z":164.5,"v":0.19},{"z":165,"v":0.187},{"z":165.5,"v":0.199},{"z":166,"v":0.205},{"z":166.5,"v":0.202},{"z":167,"v":0.19},{"z":167.5,"v":0.185},{"z":168,"v":0.19},{"z":168.5,"v":0.188},{"z":169,"v":0.2},{"z":169.5,"v":0.206},{"z":170,"v":0.203},{"z":170.5,"v":0.191},{"z":171,"v":0.186},{"z":171.5,"v":0.191},{"z":172,"v":0.189},{"z":172.5,"v":0.201},{"z":173,"v":0.208},{"z":173.5,"v":0.205},{"z":174,"v":0.192},{"z":174.5,"v":0.186},{"z":175,"v":0.191},{"z":175.5,"v":0.19},{"z":176,"v":0.202},{"z":176.5,"v":0.208},{"z":177,"v":0.205},{"z":177.5,"v":0.192},{"z":178,"v":0.186},{"z":178.5,"v":0.191},{"z":179,"v":0.19},{"z":179.5,"v":0.202},{"z":180,"v":0.207},{"z":180.5,"v":0.204},{"z":181,"v":0.192},{"z":181.5,"v":0.187},{"z":182,"v":0.192},{"z":182.5,"v":0.19},{"z":183,"v":0.202},{"z":183.5,"v":0.205},{"z":184,"v":0.202},{"z":184.5,"v":0.19},{"z":185,"v":0.185},{"z":185.5,"v":0.19},{"z":186,"v":0.188},{"z":186.5,"v":0.2},{"z":187,"v":0.204},{"z":187.5,"v":0.201},{"z":188,"v":0.189},{"z":188.5,"v":0.184},{"z":189,"v":0.189},{"z":189.5,"v":0.187},{"z":190,"v":0.199},{"z":190.5,"v":0.203},{"z":191,"v":0.2},{"z":191.5,"v":0.188},{"z":192,"v":0.183},{"z":192.5,"v":0.188},{"z":193,"v":0.186},{"z":193.5,"v":0.198},{"z":194,"v":0.205},{"z":194.5,"v":0.202},{"z":195,"v":0.189},{"z":195.5,"v":0.183},{"z":196,"v":0.188},{"z":196.5,"v":0.187},{"z":197,"v":0.2},{"z":197.5,"v":0.207},{"z":198,"v":0.203},{"z":198.5,"v":0.19},{"z":199,"v":0.183},{"z":199.5,"v":0.188},{"z":200,"v":0.188},{"z":200.5,"v":0.201},{"z":201,"v":0.204},{"z":201.5,"v":0.201},{"z":202,"v":0.188},{"z":202.5,"v":0.182},{"z":203,"v":0.187},{"z":203.5,"v":0.186},{"z":204,"v":0.198},{"z":204.5,"v":0.203},{"z":205,"v":0.2},{"z":205.5,"v":0.187},{"z":206,"v":0.181},{"z":206.5,"v":0.186},{"z":207,"v":0.185},{"z":207.5,"v":0.197},{"z":208,"v":0.202},{"z":208.5,"v":0.199},{"z":209,"v":0.186},{"z":209.5,"v":0.18},{"z":210,"v":0.185},{"z":210.5,"v":0.184},{"z":211,"v":0.196},{"z":211.5,"v":0.201},{"z":212,"v":0.198},{"z":212.5,"v":0.185},{"z":213,"v":0.179},{"z":213.5,"v":0.184},{"z":214,"v":0.183},{"z":214.5,"v":0.195},{"z":215,"v":0.2},{"z":215.5,"v":0.197},{"z":216,"v":0.184},{"z":216.5,"v":0.178},{"z":217,"v":0.183},{"z":217.5,"v":0.182},{"z":218,"v":0.194},{"z":218.5,"v":0.2},{"z":219,"v":0.196},{"z":219.5,"v":0.183},{"z":220,"v":0.176},{"z":220.5,"v":0.181},{"z":221,"v":0.18},{"z":221.5,"v":0.194},{"z":222,"v":0.198},{"z":222.5,"v":0.194},{"z":223,"v":0.181},{"z":223.5,"v":0.174},{"z":224,"v":0.179},{"z":224.5,"v":0.178},{"z":225,"v":0.192},{"z":225.5,"v":0.196},{"z":226,"v":0.192},{"z":226.5,"v":0.179},{"z":227,"v":0.172},{"z":227.5,"v":0.177},{"z":228,"v":0.176},{"z":228.5,"v":0.19},{"z":229,"v":0.193},{"z":229.5,"v":0.19},{"z":230,"v":0.177},{"z":230.5,"v":0.171},{"z":231,"v":0.176},{"z":231.5,"v":0.175},{"z":232,"v":0.187},{"z":232.5,"v":0.191},{"z":233,"v":0.188},{"z":233.5,"v":0.175},{"z":234,"v":0.169},{"z":234.5,"v":0.174},{"z":235,"v":0.173},{"z":235.5,"v":0.185},{"z":236,"v":0.19},{"z":236.5,"v":0.187},{"z":237,"v":0.174},{"z":237.5,"v":0.19},{"z":238,"v":0.18},{"z":238.5,"v":0.175},{"z":239,"v":0.17},{"z":239.5,"v":0.158},{"z":240,"v":0.144}]
},
"layer":[
{"data":{"name":"red"},"mark":{"type":"line","color":"#ff0000","strokeWidth":2.2},
"encoding":{
"x":{"field":"z","type":"quantitative","scale":{"domain":[0,250],"nice":false},"axis":{"orient":"bottom","values":[0,50,100,150,200,250],"title":"z\u00a0\u00a0(m)","labelPadding":18,"titlePadding":0}},
"y":{"field":"v","type":"quantitative","scale":{"domain":[0,0.7],"nice":false,"zero":false},"axis":{"orient":"left","values":[0,0.1,0.2,0.3,0.4,0.5,0.6,0.7],"labelExpr":"datum.value == 0 ? '0' : format(datum.value, '.1f')","title":"b₁(z) (red), b₂(z) (blue), b₃(z) (green) (TW)","titleFontSize":31,"labelPadding":20,"titlePadding":20}}}},
{"data":{"name":"blue"},"mark":{"type":"line","color":"#0000ff","strokeWidth":2.2},
"encoding":{
"x":{"field":"z","type":"quantitative","axis":{"orient":"top","values":[0,50,100,150,200,250],"labels":false,"title":null}},
"y":{"field":"v","type":"quantitative","axis":{"orient":"right","values":[0,0.1,0.2,0.3,0.4,0.5,0.6,0.7],"labels":false,"title":null}}}},
{"data":{"name":"green"},"mark":{"type":"line","color":"#00ee00","strokeWidth":2.2},
"encoding":{
"x":{"field":"z","type":"quantitative","axis":null},
"y":{"field":"v","type":"quantitative","axis":null}}}
],
"resolve":{"axis":{"x":"independent","y":"independent"}}
}
